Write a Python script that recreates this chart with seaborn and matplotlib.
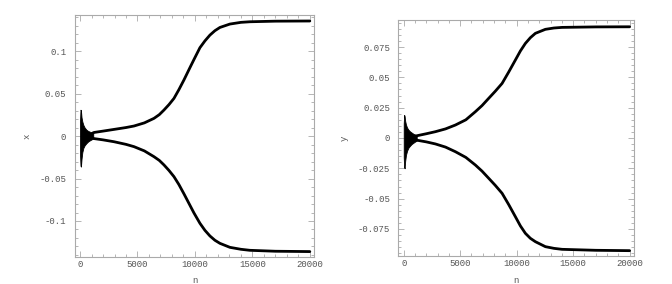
import numpy as np
import pandas as pd
import matplotlib
matplotlib.use("Agg")
import matplotlib.pyplot as plt
import seaborn as sns
from matplotlib.ticker import FixedLocator, FixedFormatter, MultipleLocator

# ---------------- data ----------------
# Left panel (x vs n)
x_up_n = [1100, 1217, 2000, 2957, 4000, 4696, 5600, 6435, 6900, 7304, 7740, 8174, 8600, 9043, 9565, 9913, 10435, 10870, 11304, 11740, 12174, 13043, 14000, 14783, 17000, 20000]
x_up_v = [0.0035, 0.0042, 0.0058, 0.0078, 0.0100, 0.0118, 0.0155, 0.0208, 0.0252, 0.0306, 0.0370, 0.0443, 0.0545, 0.0660, 0.0805, 0.0900, 0.1040, 0.1120, 0.1188, 0.1240, 0.1278, 0.1318, 0.1338, 0.1345, 0.1352, 0.1354]
x_lo_n = [1100, 1217, 2000, 2957, 4000, 4696, 5600, 6435, 6900, 7304, 7740, 8174, 8600, 9043, 9565, 9913, 10435, 10870, 11304, 11740, 12174, 13043, 14000, 14783, 17000, 20000]
x_lo_v = [-0.0025, -0.0030, -0.0045, -0.0067, -0.0098, -0.0125, -0.0175, -0.0243, -0.0287, -0.0340, -0.0405, -0.0478, -0.0570, -0.0680, -0.0815, -0.0905, -0.1027, -0.1110, -0.1176, -0.1227, -0.1263, -0.1310, -0.1333, -0.1345, -0.1356, -0.1360]
x_burst_n = [0, 40, 80, 130, 200, 290, 400, 550, 700, 870, 1000, 1150]
x_burst_hi = [0.018, 0.031, 0.030, 0.022, 0.017, 0.013, 0.010, 0.0075, 0.0060, 0.0050, 0.0045, 0.0040]
x_burst_lo = [-0.022, -0.035, -0.036, -0.027, -0.019, -0.014, -0.011, -0.0085, -0.0065, -0.0050, -0.0040, -0.0030]

# Right panel (y vs n)
y_up_n = [1035, 2000, 2805, 3700, 4575, 5500, 6345, 6930, 7522, 8100, 8708, 9300, 9885, 10330, 10770, 11210, 11655, 12540, 13300, 14018, 17000, 20000]
y_up_v = [0.0016, 0.0035, 0.0052, 0.0075, 0.0107, 0.0150, 0.0217, 0.0267, 0.0327, 0.0385, 0.0450, 0.0545, 0.0643, 0.0718, 0.0780, 0.0827, 0.0863, 0.0896, 0.0907, 0.0912, 0.0916, 0.0917]
y_lo_n = [1035, 2000, 2805, 3700, 4575, 5500, 6345, 6930, 7522, 8100, 8708, 9300, 9885, 10330, 10770, 11210, 11655, 12540, 13300, 14018, 17000, 20000]
y_lo_v = [-0.0016, -0.0032, -0.0049, -0.0075, -0.0113, -0.0160, -0.0223, -0.0273, -0.0332, -0.0390, -0.0456, -0.0550, -0.0649, -0.0725, -0.0786, -0.0827, -0.0855, -0.0896, -0.0910, -0.0918, -0.0926, -0.0929]
y_burst_n = [0, 40, 80, 130, 200, 300, 420, 550, 700, 850, 1000, 1150]
y_burst_hi = [0.012, 0.019, 0.018, 0.014, 0.011, 0.0085, 0.0068, 0.0055, 0.0045, 0.0035, 0.0028, 0.0022]
y_burst_lo = [-0.016, -0.024, -0.025, -0.019, -0.014, -0.0105, -0.0080, -0.0065, -0.0050, -0.0040, -0.0030, -0.0022]

n_ticks = [0, 5000, 10000, 15000, 20000]
n_tick_labels = ["0", "5000", "10000", "15000", "20000"]
x_ticks = [-0.1, -0.05, 0, 0.05, 0.1]
x_tick_labels = ["-0.1", "-0.05", "0", "0.05", "0.1"]
y_ticks = [-0.075, -0.05, -0.025, 0, 0.025, 0.05, 0.075]
y_tick_labels = ["-0.075", "-0.05", "-0.025", "0", "0.025", "0.05", "0.075"]

# ---------------- drawing ----------------
sns.set_theme(style="white")
plt.rcParams["font.family"] = ["Liberation Mono", "DejaVu Sans Mono"]

fig = plt.figure(figsize=(6.72, 2.84), dpi=100)
axL = fig.add_axes([0.1109, 0.095, 0.357, 0.852])
axR = fig.add_axes([0.5927, 0.0986, 0.351, 0.831])

TXT = "#555555"
FRAME = "#aaaaaa"
LW = 2.0

def draw(ax, up_n, up_v, lo_n, lo_v, b_n, b_hi, b_lo):
    ax.fill_between(b_n, b_lo, b_hi, color="black", lw=0.6, edgecolor="black")
    sns.lineplot(data=pd.DataFrame({"n": up_n, "v": up_v}), x="n", y="v", ax=ax,
                 color="black", lw=LW, sort=False, estimator=None)
    sns.lineplot(data=pd.DataFrame({"n": lo_n, "v": lo_v}), x="n", y="v", ax=ax,
                 color="black", lw=LW, sort=False, estimator=None)

draw(axL, x_up_n, x_up_v, x_lo_n, x_lo_v, x_burst_n, x_burst_hi, x_burst_lo)
draw(axR, y_up_n, y_up_v, y_lo_n, y_lo_v, y_burst_n, y_burst_hi, y_burst_lo)

def style(ax, yt, ytl, ylim, yminor, ylabel, ylab_x, xlab_y):
    ax.set_xlim(-480, 20400)
    ax.set_ylim(*ylim)
    ax.xaxis.set_major_locator(FixedLocator(n_ticks))
    ax.xaxis.set_major_formatter(FixedFormatter(n_tick_labels))
    ax.xaxis.set_minor_locator(MultipleLocator(1000))
    ax.yaxis.set_major_locator(FixedLocator(yt))
    ax.yaxis.set_major_formatter(FixedFormatter(ytl))
    ax.yaxis.set_minor_locator(MultipleLocator(yminor))
    ax.tick_params(which="both", direction="in", top=True, right=True,
                   bottom=True, left=True, colors=FRAME, labelcolor=TXT,
                   labelsize=6.5, width=0.6)
    ax.tick_params(which="major", length=4)
    ax.tick_params(which="minor", length=2)
    ax.tick_params(axis="x", pad=2.5)
    ax.tick_params(axis="y", pad=6)
    for s in ax.spines.values():
        s.set_color(FRAME)
        s.set_linewidth(0.8)
    ax.set_xlabel("n", fontsize=6.5, color=TXT)
    ax.set_ylabel(ylabel, fontsize=6.5, color=TXT)
    ax.yaxis.set_label_coords(ylab_x, 0.5)
    ax.xaxis.set_label_coords(0.5, xlab_y)

style(axL, x_ticks, x_tick_labels, (-0.1424, 0.1424), 0.01, "x", -0.177, -0.077)
style(axR, y_ticks, y_tick_labels, (-0.0973, 0.0973), 0.005, "y", -0.209, -0.083)

fig.savefig("out.png", dpi=100, facecolor="white")
